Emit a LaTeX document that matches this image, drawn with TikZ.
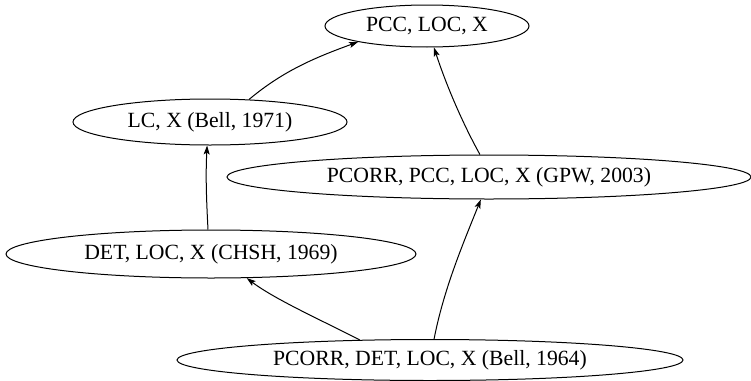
\documentclass[tikz,border=0pt]{standalone}
\usepackage{fontspec}
\setmainfont{Liberation Serif}
\usetikzlibrary{shapes.geometric,arrows.meta}
\begin{document}
\begin{tikzpicture}[x=1pt,y=-1pt,
  ell/.style={ellipse,draw,line width=1pt,inner sep=0pt,
    font=\fontsize{21.7pt}{26pt}\selectfont},
  edge/.style={line width=1pt,-{Stealth[length=9pt,width=6pt,inset=2pt]}}]
\useasboundingbox (0,0) rectangle (751,380);
\node[ell,minimum width=204pt,minimum height=42pt] (A) at (427,26) {PCC, LOC, X};
\node[ell,minimum width=274pt,minimum height=46pt] (B) at (210,122) {LC, X (Bell, 1971)};
\node[ell,minimum width=524pt,minimum height=44pt] (C) at (489,177) {PCORR, PCC, LOC, X (GPW, 2003)};
\node[ell,minimum width=410pt,minimum height=48pt] (D) at (211,254) {DET, LOC, X (CHSH, 1969)};
\node[ell,minimum width=506pt,minimum height=41pt] (E) at (430,360) {PCORR, DET, LOC, X (Bell, 1964)};
\draw[edge] (B.30) .. controls +(-40:45) and +(-200:45) .. (A.193);
\draw[edge] (C.112) .. controls +(-119:40) and +(-288:35) .. (A.288);
\draw[edge] (D.97) .. controls +(-93:30) and +(-267:30) .. (B.263);
\draw[edge] (E.164) .. controls +(-153:45) and +(-323:35) .. (D.326);
\draw[edge] (E.79) .. controls +(-79:50) and +(-248:50) .. (C.250);
\end{tikzpicture}
\end{document}
